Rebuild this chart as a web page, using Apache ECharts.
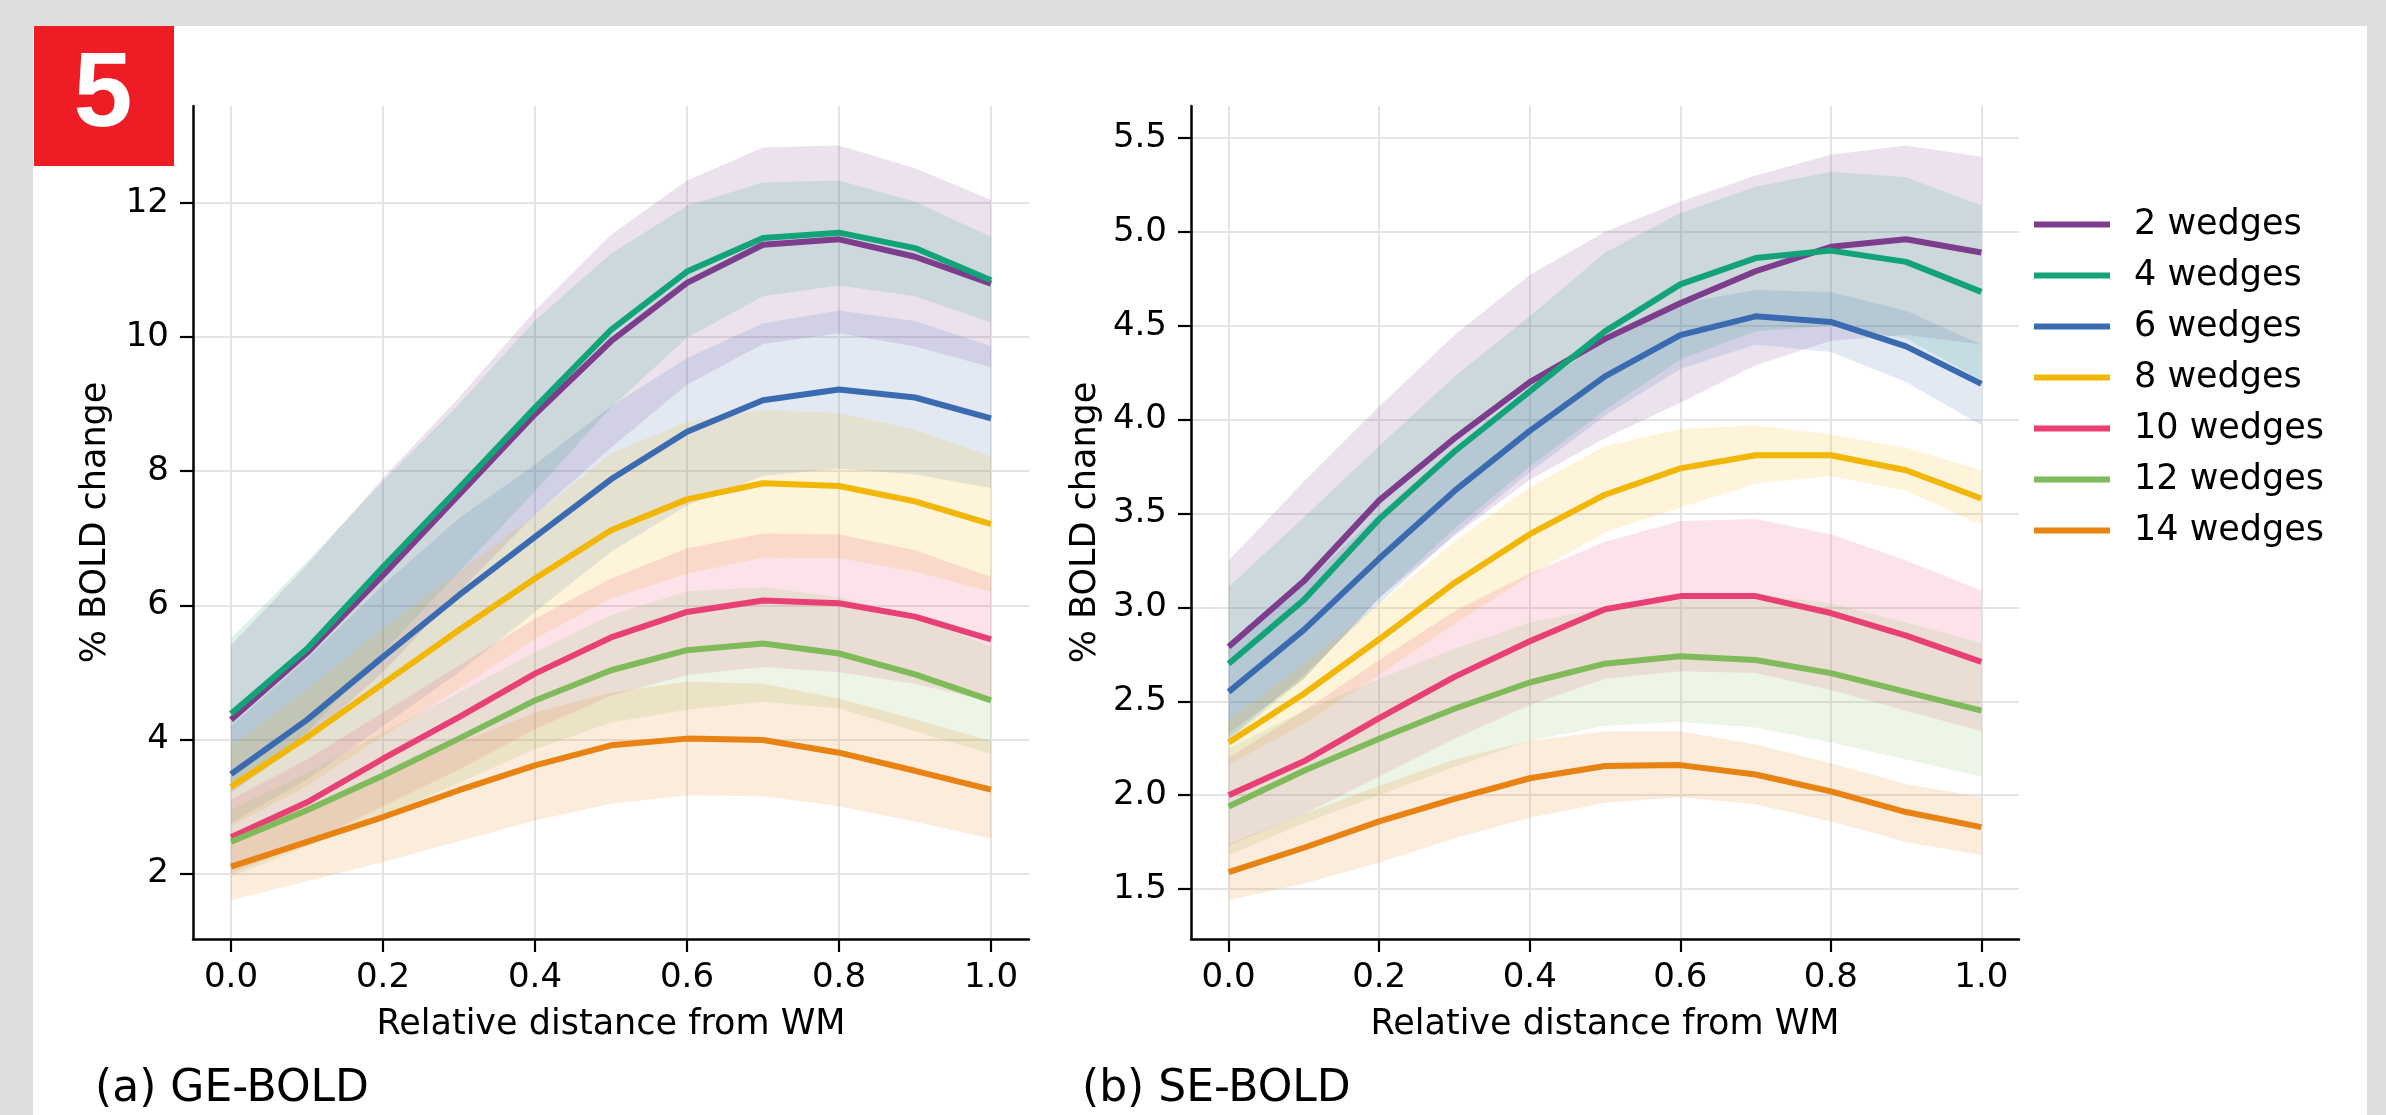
<!DOCTYPE html>
<html>
<head>
<meta charset="utf-8">
<script src="https://cdn.jsdelivr.net/npm/echarts@6/dist/echarts.min.js"></script>
<style>
  html, body { margin: 0; padding: 0; background: #dddddd; }
  #panel { position: absolute; left: 33px; top: 26px; width: 2334px; height: 1089px; background: #ffffff; }
  #chart { position: absolute; left: 0; top: 0; width: 2386px; height: 1115px; }
</style>
</head>
<body>
<div id="panel"></div>
<div id="chart"></div>
<script>
// ---- data ----
const xs = [0, 0.1, 0.2, 0.3, 0.4, 0.5, 0.6, 0.7, 0.8, 0.9, 1.0];
const seriesNames = ['2 wedges', '4 wedges', '6 wedges', '8 wedges', '10 wedges', '12 wedges', '14 wedges'];
const colors = ['#7d3c8c', '#12a378', '#3a6ab0', '#f2b705', '#e84075', '#7fbb5a', '#e88212'];
const xTicks = [0, 0.2, 0.4, 0.6, 0.8, 1.0];
const geYTicks = [2, 4, 6, 8, 10, 12];
const seYTicks = [1.5, 2.0, 2.5, 3.0, 3.5, 4.0, 4.5, 5.0, 5.5];

// (a) GE-BOLD
const ge2    = [4.29, 5.29, 6.45, 7.65, 8.85, 9.94, 10.81, 11.38, 11.46, 11.20, 10.80];
const ge2Hi  = [5.40, 6.60, 7.90, 9.10, 10.40, 11.53, 12.34, 12.83, 12.86, 12.52, 12.05];
const ge2Lo  = [3.20, 4.00, 5.00, 6.20, 7.35, 8.35, 9.29, 9.90, 10.06, 9.86, 9.55];
const ge4    = [4.38, 5.35, 6.57, 7.75, 8.95, 10.11, 10.98, 11.48, 11.56, 11.33, 10.85];
const ge4Hi  = [5.50, 6.65, 7.85, 9.00, 10.25, 11.25, 11.96, 12.31, 12.34, 12.02, 11.50];
const ge4Lo  = [3.25, 4.10, 5.30, 6.50, 7.70, 8.95, 9.99, 10.61, 10.77, 10.61, 10.22];
const ge6    = [3.48, 4.29, 5.23, 6.15, 7.02, 7.88, 8.59, 9.06, 9.22, 9.10, 8.79];
const ge6Hi  = [4.20, 5.20, 6.30, 7.30, 8.10, 8.97, 9.69, 10.21, 10.40, 10.24, 9.87];
const ge6Lo  = [2.75, 3.40, 4.20, 5.00, 5.90, 6.80, 7.49, 7.93, 8.04, 7.95, 7.75];
const ge8    = [3.29, 4.03, 4.83, 5.63, 6.40, 7.12, 7.58, 7.82, 7.78, 7.55, 7.21];
const ge8Hi  = [3.90, 4.75, 5.65, 6.50, 7.35, 8.27, 8.74, 8.91, 8.87, 8.62, 8.22];
const ge8Lo  = [2.70, 3.30, 4.05, 4.75, 5.50, 6.10, 6.47, 6.71, 6.70, 6.50, 6.20];
const ge10   = [2.54, 3.06, 3.71, 4.33, 4.98, 5.52, 5.90, 6.07, 6.03, 5.83, 5.49];
const ge10Hi = [3.10, 3.70, 4.40, 5.10, 5.80, 6.40, 6.85, 7.07, 7.06, 6.82, 6.42];
const ge10Lo = [2.00, 2.45, 3.00, 3.55, 4.15, 4.65, 4.96, 5.08, 5.00, 4.83, 4.56];
const ge12   = [2.47, 2.94, 3.46, 4.01, 4.58, 5.03, 5.33, 5.43, 5.28, 4.97, 4.58];
const ge12Hi = [2.95, 3.50, 4.10, 4.70, 5.30, 5.85, 6.21, 6.27, 6.12, 5.84, 5.38];
const ge12Lo = [1.95, 2.40, 2.85, 3.35, 3.85, 4.25, 4.44, 4.56, 4.46, 4.12, 3.78];
const ge14   = [2.10, 2.47, 2.84, 3.24, 3.61, 3.91, 4.01, 3.99, 3.80, 3.53, 3.25];
const ge14Hi = [2.60, 3.00, 3.50, 3.95, 4.40, 4.70, 4.86, 4.83, 4.61, 4.30, 3.97];
const ge14Lo = [1.60, 1.88, 2.17, 2.48, 2.79, 3.04, 3.16, 3.15, 3.00, 2.77, 2.52];

// (b) SE-BOLD
const se2    = [2.79, 3.14, 3.57, 3.90, 4.20, 4.43, 4.62, 4.79, 4.92, 4.96, 4.89];
const se2Hi  = [3.25, 3.67, 4.07, 4.45, 4.77, 5.00, 5.16, 5.30, 5.41, 5.46, 5.40];
const se2Lo  = [2.33, 2.62, 3.05, 3.38, 3.68, 3.90, 4.09, 4.29, 4.42, 4.45, 4.40];
const se4    = [2.70, 3.04, 3.47, 3.83, 4.15, 4.47, 4.72, 4.86, 4.90, 4.84, 4.68];
const se4Hi  = [3.11, 3.48, 3.86, 4.23, 4.55, 4.89, 5.10, 5.24, 5.32, 5.29, 5.14];
const se4Lo  = [2.29, 2.62, 3.05, 3.42, 3.75, 4.05, 4.32, 4.47, 4.50, 4.43, 4.21];
const se6    = [2.55, 2.88, 3.26, 3.62, 3.94, 4.23, 4.45, 4.55, 4.52, 4.39, 4.19];
const se6Hi  = [2.80, 3.12, 3.50, 3.85, 4.15, 4.42, 4.62, 4.69, 4.68, 4.58, 4.40];
const se6Lo  = [2.30, 2.64, 3.02, 3.39, 3.72, 4.02, 4.27, 4.40, 4.36, 4.20, 3.97];
const se8    = [2.28, 2.54, 2.83, 3.13, 3.39, 3.60, 3.74, 3.81, 3.81, 3.73, 3.58];
const se8Hi  = [2.40, 2.70, 3.02, 3.35, 3.64, 3.86, 3.95, 3.97, 3.92, 3.85, 3.73];
const se8Lo  = [2.16, 2.38, 2.64, 2.91, 3.17, 3.40, 3.53, 3.66, 3.70, 3.62, 3.44];
const se10   = [2.00, 2.18, 2.41, 2.63, 2.82, 2.99, 3.06, 3.06, 2.97, 2.85, 2.71];
const se10Hi = [2.20, 2.45, 2.72, 2.98, 3.18, 3.35, 3.46, 3.47, 3.39, 3.25, 3.09];
const se10Lo = [1.73, 1.90, 2.10, 2.30, 2.48, 2.62, 2.66, 2.65, 2.56, 2.45, 2.34];
const se12   = [1.94, 2.13, 2.30, 2.46, 2.60, 2.70, 2.74, 2.72, 2.65, 2.55, 2.45];
const se12Hi = [2.25, 2.45, 2.62, 2.78, 2.92, 3.00, 3.04, 3.07, 3.02, 2.92, 2.81];
const se12Lo = [1.68, 1.85, 2.00, 2.15, 2.29, 2.37, 2.39, 2.36, 2.28, 2.19, 2.10];
const se14   = [1.59, 1.72, 1.86, 1.98, 2.09, 2.155, 2.16, 2.11, 2.02, 1.91, 1.83];
const se14Hi = [1.74, 1.90, 2.05, 2.19, 2.29, 2.34, 2.34, 2.27, 2.17, 2.06, 1.99];
const se14Lo = [1.44, 1.53, 1.64, 1.77, 1.88, 1.96, 1.99, 1.95, 1.86, 1.75, 1.68];

const geSets = [[ge2, ge2Hi, ge2Lo], [ge4, ge4Hi, ge4Lo], [ge6, ge6Hi, ge6Lo], [ge8, ge8Hi, ge8Lo],
                [ge10, ge10Hi, ge10Lo], [ge12, ge12Hi, ge12Lo], [ge14, ge14Hi, ge14Lo]];
const seSets = [[se2, se2Hi, se2Lo], [se4, se4Hi, se4Lo], [se6, se6Hi, se6Lo], [se8, se8Hi, se8Lo],
                [se10, se10Hi, se10Lo], [se12, se12Hi, se12Lo], [se14, se14Hi, se14Lo]];

// ---- build ----
const FONT = '"DejaVu Sans", sans-serif';
const series = [];
function bandSeries(hi, lo, color, idx, name) {
  return {
    type: 'custom', name: name, xAxisIndex: idx, yAxisIndex: idx, silent: true, z: 1,
    clip: true,
    encode: { x: 0, y: 1 },
    data: [[xs[0], lo[0]]],
    renderItem: function (params, api) {
      const pts = [];
      for (let k = 0; k < xs.length; k++) pts.push(api.coord([xs[k], hi[k]]));
      for (let k = xs.length - 1; k >= 0; k--) pts.push(api.coord([xs[k], lo[k]]));
      return { type: 'polygon', shape: { points: pts }, style: { fill: color, opacity: 0.15 } };
    }
  };
}
function addPanel(sets, idx) {
  sets.forEach(function (s, i) {
    series.push(bandSeries(s[1], s[2], colors[i], idx, seriesNames[i] + ' band' + idx));
  });
  sets.forEach(function (s, i) {
    series.push({
      type: 'line', name: seriesNames[i], xAxisIndex: idx, yAxisIndex: idx,
      data: xs.map(function (x, k) { return [x, s[0][k]]; }),
      symbol: 'none', showSymbol: false, z: 3 + i * 0.01,
      lineStyle: { color: colors[i], width: 6 },
      itemStyle: { color: colors[i] },
      emphasis: { disabled: true }
    });
  });
}
addPanel(geSets, 0);
addPanel(seSets, 1);

function xAxisCfg(gridIndex) {
  return {
    type: 'value', gridIndex: gridIndex, min: -0.05, max: 1.05,
    name: 'Relative distance from WM', nameLocation: 'middle', nameGap: 68,
    nameTextStyle: { fontFamily: FONT, fontSize: 35, color: '#000' },
    axisLine: { show: true, onZero: false, lineStyle: { color: '#000', width: 2.5 } },
    axisTick: { show: true, length: 13, lineStyle: { color: '#000', width: 2.2 }, customValues: xTicks },
    axisLabel: { fontFamily: FONT, fontSize: 34, color: '#000', margin: 22, customValues: xTicks,
                 formatter: function (v) { return v.toFixed(1); } },
    splitLine: { show: true, lineStyle: { color: '#e4e4e4', width: 2 } }
  };
}
function yAxisCfg(gridIndex, min, max, ticks, dec) {
  return {
    type: 'value', gridIndex: gridIndex, min: min, max: max,
    name: '% BOLD change', nameLocation: 'middle', nameGap: dec ? 88 : 80,
    nameTextStyle: { fontFamily: FONT, fontSize: 35, color: '#000' },
    axisLine: { show: true, onZero: false, lineStyle: { color: '#000', width: 2.5 } },
    axisTick: { show: true, length: 13, lineStyle: { color: '#000', width: 2.2 }, customValues: ticks },
    axisLabel: { fontFamily: FONT, fontSize: 34, color: '#000', margin: 24, customValues: ticks,
                 formatter: function (v) { return dec ? v.toFixed(1) : String(Math.round(v)); } },
    splitLine: { show: true, lineStyle: { color: '#e4e4e4', width: 2 } }
  };
}

const chart = echarts.init(document.getElementById('chart'), null, { renderer: 'canvas' });
chart.setOption({
  animation: false,
  backgroundColor: 'transparent',
  grid: [
    { left: 193, top: 106, width: 836, height: 833 },
    { left: 1191, top: 106, width: 828, height: 833 }
  ],
  xAxis: [xAxisCfg(0), xAxisCfg(1)],
  yAxis: [yAxisCfg(0, 1.02, 13.45, geYTicks, false), yAxisCfg(1, 1.234, 5.67, seYTicks, true)],
  legend: {
    data: seriesNames, orient: 'vertical', left: 2034, top: 207, padding: 0,
    icon: 'rect', itemWidth: 76, itemHeight: 6, itemGap: 16,
    textStyle: { fontFamily: FONT, fontSize: 35, color: '#000', lineHeight: 35, padding: [0, 0, 0, 19] },
    selectedMode: false
  },
  graphic: [
    { type: 'rect', shape: { x: 34, y: 26, width: 140, height: 140 }, style: { fill: '#ee1c25' }, z: 10 },
    { type: 'text', z: 11, style: { text: '5', x: 103, y: 97, fill: '#ffffff',
      font: 'bold 106px "Liberation Sans", Arial, sans-serif', textAlign: 'center', textVerticalAlign: 'middle',
      align: 'center', verticalAlign: 'middle' } },
    { type: 'text', z: 11, style: { text: '(a) GE-BOLD', x: 95, y: 1090, fill: '#000',
      font: '44px "DejaVu Sans", sans-serif', textAlign: 'left', textVerticalAlign: 'middle',
      align: 'left', verticalAlign: 'middle' } },
    { type: 'text', z: 11, style: { text: '(b) SE-BOLD', x: 1082, y: 1090, fill: '#000',
      font: '44px "DejaVu Sans", sans-serif', textAlign: 'left', textVerticalAlign: 'middle',
      align: 'left', verticalAlign: 'middle' } }
  ],
  series: series
});
</script>
</body>
</html>
